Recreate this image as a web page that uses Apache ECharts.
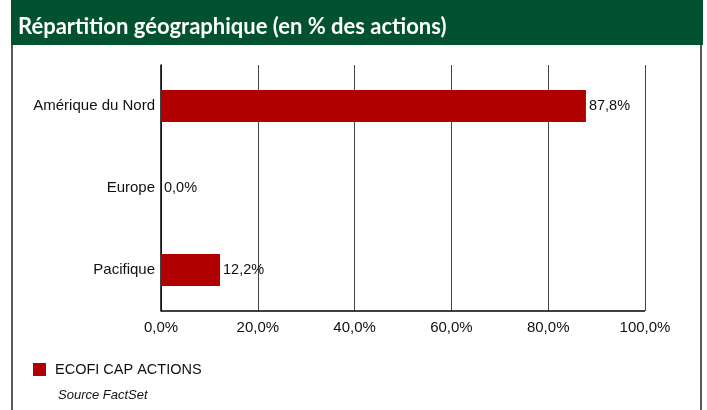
<!DOCTYPE html>
<html>
<head>
<meta charset="utf-8">
<script src="https://cdn.jsdelivr.net/npm/echarts@6/dist/echarts.min.js"></script>
<style>
  html, body { margin: 0; padding: 0; background: #fff; }
  #main { width: 707px; height: 410px; }
</style>
</head>
<body>
<div id="main"></div>
<script>
// données
const categories = ["Amérique du Nord", "Europe", "Pacifique"];
const values = [87.8, 0.0, 12.2];
const seriesName = "ECOFI CAP ACTIONS";
const titleText = "Répartition géographique (en % des actions)";
const sourceText = "Source FactSet";

const fmt = v => v.toFixed(1).replace(".", ",") + "%";

const chart = echarts.init(document.getElementById("main"));
chart.setOption({
  animation: false,
  textStyle: { fontFamily: "Liberation Sans, Arial, sans-serif" },
  graphic: [
    { type: "rect", left: 11, top: 0, shape: { width: 692, height: 45 }, style: { fill: "#03522f" }, z: 0 },
    { type: "text", left: 18, top: 16, style: { text: titleText, fill: "#fff", font: "bold 22px Lato" } },
    { type: "line", shape: { x1: 12, y1: 45, x2: 12, y2: 410 }, style: { stroke: "#222", lineWidth: 1.5 } },
    { type: "line", shape: { x1: 701, y1: 45, x2: 701, y2: 410 }, style: { stroke: "#222", lineWidth: 1.5 } },
    { type: "text", left: 58, top: 389, style: { text: sourceText, fill: "#111", font: "italic 13px 'Liberation Sans'" } }
  ],
  legend: {
    left: 28, top: 357,
    itemWidth: 13, itemHeight: 13, itemGap: 10,
    icon: "rect",
    textStyle: { fontSize: 14.5, color: "#111", padding: [0, 0, 0, 4] },
    data: [seriesName]
  },
  grid: { left: 161, right: 62, top: 65, bottom: 99, containLabel: false },
  xAxis: {
    type: "value", min: 0, max: 100, interval: 20,
    axisLine: { show: false },
    axisTick: { show: false },
    axisLabel: { color: "#111", fontSize: 15, margin: 9, formatter: v => fmt(v) },
    splitLine: { show: true, lineStyle: { color: "#444", width: 1 } }
  },
  yAxis: {
    type: "category", inverse: true, data: categories,
    axisLine: { show: true, lineStyle: { color: "#000", width: 1.5 } },
    axisTick: { show: false },
    axisLabel: { color: "#111", fontSize: 15, margin: 6 }
  },
  series: [{
    name: seriesName,
    type: "bar",
    data: values,
    barWidth: "39%",
    itemStyle: { color: "#b00000" },
    label: { show: true, position: "right", distance: 3, color: "#111", fontSize: 14.5, formatter: p => fmt(p.value) }
  }, {
    type: "line", data: [], silent: true,
    markLine: {
      symbol: "none", silent: true, label: { show: false },
      lineStyle: { color: "#000", width: 1.5, type: "solid" },
      data: [[{ coord: [0, 2], y: 311 }, { coord: [100, 2], y: 311 }]]
    }
  }]
});
</script>
</body>
</html>
